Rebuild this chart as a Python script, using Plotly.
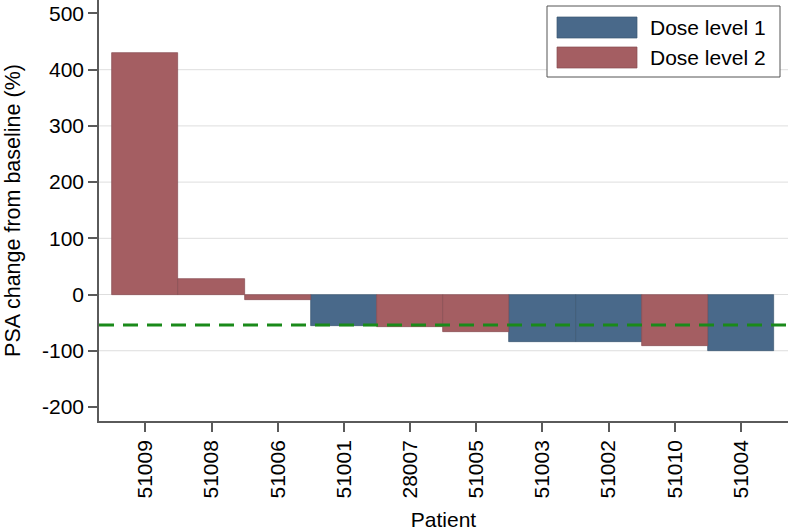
import plotly.graph_objects as go

# ---- data ----
patients = ["51009", "51008", "51006", "51001", "28007", "51005", "51003", "51002", "51010", "51004"]
psa_change = [430, 27, -10, -56, -57, -66, -84, -85, -92, -100]
dose_level = [2, 2, 2, 1, 2, 2, 1, 1, 2, 1]
series_names = ["Dose level 1", "Dose level 2"]
y_ticks = [500, 400, 300, 200, 100, 0, -100, -200]
grid_values = [400, 300, 200, 100, 0, -100]
threshold = -54

colors = {1: "#49698A", 2: "#A45E62"}
edge = {1: "#3b5670", 2: "#874c50"}
FONT = "Liberation Sans, Arial, Helvetica, sans-serif"
FS = 21

fig = go.Figure()
for lvl, name in zip([1, 2], series_names):
    xs = [p for p, d in zip(patients, dose_level) if d == lvl]
    ys = [v for v, d in zip(psa_change, dose_level) if d == lvl]
    fig.add_trace(go.Bar(
        x=xs, y=ys, name=name, width=1,
        marker=dict(color=colors[lvl], line=dict(color=edge[lvl], width=0.7)),
        showlegend=False,
    ))

for g in grid_values:
    fig.add_hline(y=g, line=dict(color="#dedede", width=1), layer="below")

fig.add_hline(y=threshold, line=dict(color="#1a8a1a", width=3, dash="15px,9px"), layer="above")

# manual legend (paper coordinates)
L, R, T, B = 99, 788, 0, 421
W, H = R - L, B - T
def px(x):
    return (x - L) / W
def py(y):
    return 1 - (y - T) / H

fig.add_shape(type="rect", xref="paper", yref="paper",
              x0=px(547), x1=px(780), y0=py(77), y1=py(6),
              line=dict(color="#555555", width=1), fillcolor="white", layer="above")
for i, (lvl, name) in enumerate(zip([1, 2], series_names)):
    top = 17 + i * 30
    fig.add_shape(type="rect", xref="paper", yref="paper",
                  x0=px(557), x1=px(637), y0=py(top + 21), y1=py(top),
                  line=dict(color=edge[lvl], width=0.7), fillcolor=colors[lvl], layer="above")
    fig.add_annotation(xref="paper", yref="paper", x=px(648), y=py(top + 10.5),
                       text=name, showarrow=False, xanchor="left", yanchor="middle",
                       font=dict(family=FONT, size=FS, color="black"))

fig.update_layout(
    width=788, height=531,
    margin=dict(l=L, r=788 - R, t=T, b=531 - B),
    plot_bgcolor="white", paper_bgcolor="white",
    barmode="overlay", bargap=0,
    showlegend=False,
    font=dict(family=FONT, size=FS, color="black"),
)
fig.update_xaxes(
    type="category", categoryorder="array", categoryarray=patients,
    range=[-0.7, 9.71], automargin=False,
    showline=True, linecolor="#5a5a5a", linewidth=1.5,
    ticks="outside", ticklen=9, tickcolor="#5a5a5a", tickwidth=1.5,
    tickangle=-90, showgrid=False, zeroline=False,
    tickfont=dict(family=FONT, size=FS, color="black"),
    title=dict(text="Patient", font=dict(family=FONT, size=FS, color="black")),
)
fig.update_yaxes(
    range=[-225, 524], automargin=False,
    tickvals=y_ticks, ticktext=[str(v) for v in y_ticks],
    showline=True, linecolor="#5a5a5a", linewidth=1.5,
    ticks="outside", ticklen=9, tickcolor="#5a5a5a", tickwidth=1.5,
    showgrid=False, zeroline=False,
    tickfont=dict(family=FONT, size=FS, color="black"),
    title=dict(text="PSA change from baseline (%)", font=dict(family=FONT, size=21.5, color="black")),
)

fig.write_html(
    "out.html",
    config={"displayModeBar": False},
    post_script="document.body.style.margin='0';document.body.style.padding='0';document.body.style.overflow='hidden';",
)
